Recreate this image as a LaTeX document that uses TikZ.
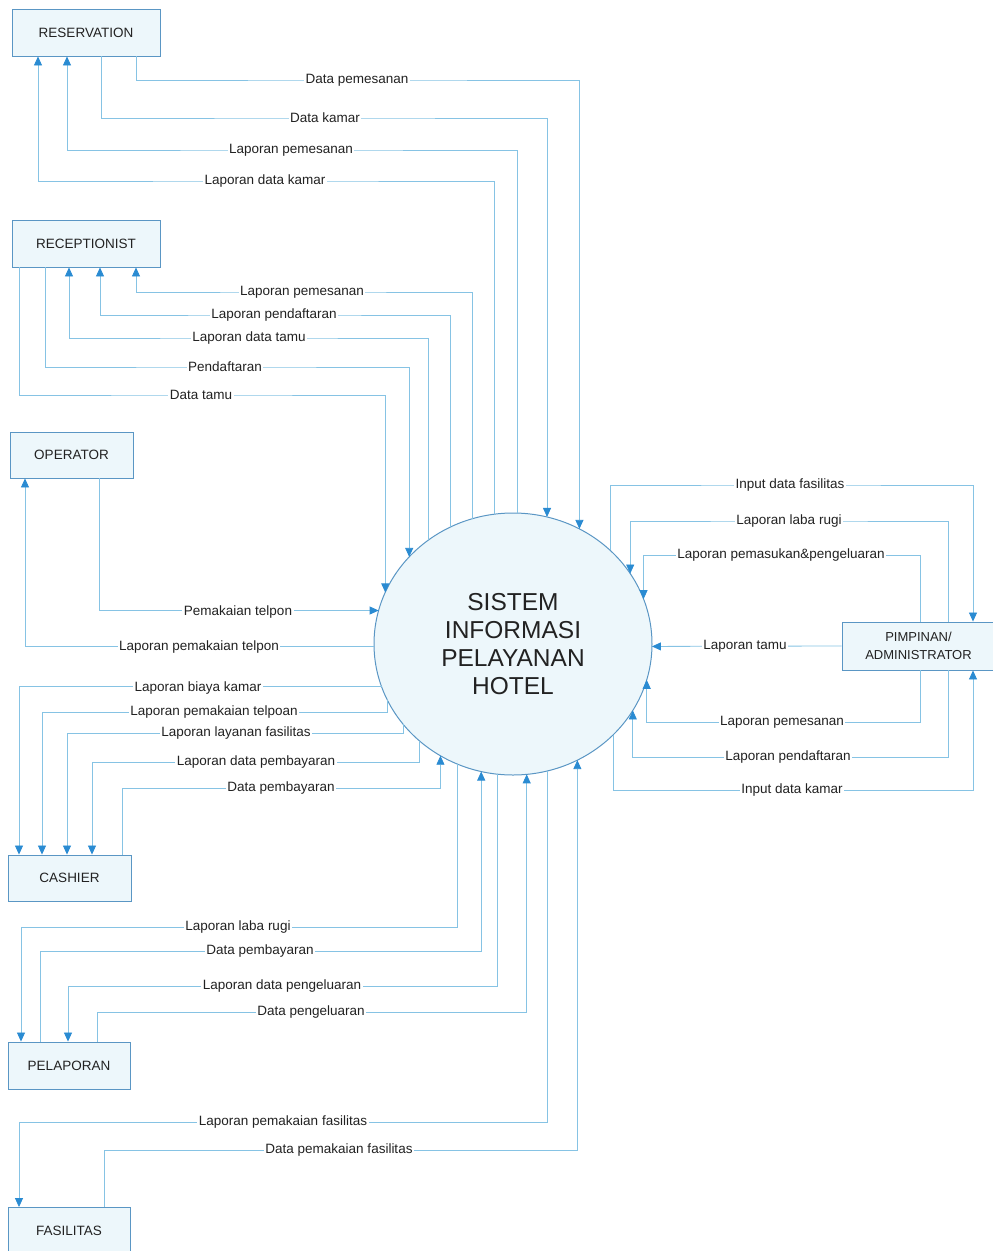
\documentclass[tikz,border=0pt]{standalone}
\usepackage{fontspec}
\setmainfont{Liberation Sans}
\usetikzlibrary{arrows.meta,shapes.geometric}
\definecolor{linec}{HTML}{86C3E4}
\definecolor{arrc}{HTML}{2A8BD2}
\definecolor{boxd}{HTML}{5A96C4}
\definecolor{boxf}{HTML}{EDF7FB}
\definecolor{txt}{HTML}{222222}
\tikzset{
  ent/.style={draw=boxd, fill=boxf, line width=0.9pt, minimum height=47pt, inner sep=0pt,
    font=\fontsize{13.5}{16}\selectfont, text=txt, align=center},
  flow/.style={draw=linec, line width=0.8pt},
  tip/.style={-{Triangle[length=9pt,width=8pt,color=arrc]}},
  lab/.style={fill=white, inner sep=1.5pt, font=\fontsize{13.5}{16}\selectfont, text=txt},
}
\begin{document}
\begin{tikzpicture}[x=1pt,y=-1pt]
\useasboundingbox (0,0) rectangle (993,1251);
% entities
\node[ent, minimum width=148pt] (res) at (86,32.5) {RESERVATION};
\node[ent, minimum width=148pt] (rec) at (86,243.5) {RECEPTIONIST};
\node[ent, minimum width=123pt, minimum height=46pt] (op) at (71.5,455) {OPERATOR};
\node[ent, minimum width=123pt, minimum height=46pt] (cash) at (69.5,878) {CASHIER};
\node[ent, minimum width=122pt] (pel) at (69,1065.5) {PELAPORAN};
\node[ent, minimum width=122pt] (fas) at (69,1231) {FASILITAS};
\node[ent, minimum width=153pt, minimum height=48pt, font=\fontsize{13}{18}\selectfont] (pim) at (918.5,646) {PIMPINAN/\\ADMINISTRATOR};
% process
\node[ellipse, draw=boxd, fill=boxf, line width=1pt, minimum width=278pt, minimum height=262pt,
  inner sep=0pt, outer sep=0pt, align=center, text=txt, font=\fontsize{24.5}{28}\selectfont]
  (sys) at (513,644) {SISTEM\\INFORMASI\\PELAYANAN\\HOTEL};
% label positions
\coordinate (a1) at (357,80);
\coordinate (a2) at (325,118);
\coordinate (a3) at (291,150);
\coordinate (a4) at (265,181);
\coordinate (b1) at (302,292);
\coordinate (b2) at (274,315);
\coordinate (b3) at (249,338);
\coordinate (b4) at (225,367);
\coordinate (b5) at (201,395);
\coordinate (c1) at (238,612);
\coordinate (c2) at (199,647);
\coordinate (d1) at (198,688);
\coordinate (d2) at (214,712);
\coordinate (d3) at (236,733);
\coordinate (d4) at (256,762);
\coordinate (d5) at (281,788);
\coordinate (e1) at (238,927);
\coordinate (e2) at (260,951);
\coordinate (e3) at (282,986);
\coordinate (e4) at (311,1012);
\coordinate (f1) at (283,1122);
\coordinate (f2) at (339,1150);
\coordinate (g1) at (790,485);
\coordinate (g2) at (789,521);
\coordinate (g3) at (781,555);
\coordinate (g4) at (745,646);
\coordinate (g5) at (782,722);
\coordinate (g6) at (788,757);
\coordinate (g7) at (792,790);
% reservation
\draw[flow,tip] (res.south -| 136,0) |- (a1) -| (sys.60.7);
\draw[flow,tip] (res.south -| 101,0) |- (a2) -| (sys.75.5);
\draw[flow,tip] (sys.88.25) |- (a3) -| (res.south -| 67,0);
\draw[flow,tip] (sys.98.3) |- (a4) -| (res.south -| 38,0);
% receptionist
\draw[flow,tip] (sys.108.6) |- (b1) -| (rec.south -| 136,0);
\draw[flow,tip] (sys.118.3) |- (b2) -| (rec.south -| 100,0);
\draw[flow,tip] (sys.129.4) |- (b3) -| (rec.south -| 69,0);
\draw[flow,tip] (rec.south -| 45,0) |- (b4) -| (sys.140.7);
\draw[flow,tip] (rec.south -| 19,0) |- (b5) -| (sys.158.3);
% operator
\draw[flow,tip] (op.south -| 99,0) |- (sys.166.6);
\draw[flow,tip] (sys.181.2) -| (op.south -| 25,0);
% cashier
\draw[flow,tip] (sys.198.6) -| (cash.north -| 19,0);
\draw[flow,tip] (sys.204.6) |- (d2) -| (cash.north -| 42,0);
\draw[flow,tip] (sys.216.1) |- (d3) -| (cash.north -| 67,0);
\draw[flow,tip] (sys.226.9) |- (d4) -| (cash.north -| 92,0);
\draw[flow,tip] (cash.north -| 122,0) |- (d5) -| (sys.237.3);
% pelaporan
\draw[flow,tip] (sys.245.4) |- (e1) -| (pel.north -| 21,0);
\draw[flow,tip] (pel.north -| 40,0) |- (e2) -| (sys.256.35);
\draw[flow,tip] (sys.263.4) |- (e3) -| (pel.north -| 68,0);
\draw[flow,tip] (pel.north -| 97,0) |- (e4) -| (sys.276.6);
% fasilitas
\draw[flow,tip] (sys.285.9) |- (f1) -| (fas.north -| 19,0);
\draw[flow,tip] (fas.north -| 104,0) |- (f2) -| (sys.299.3);
% pimpinan
\draw[flow,tip] (sys.44.6) |- (g1) -| (pim.north -| 973,0);
\draw[flow,tip] (pim.north -| 948,0) |- (g2) -| (sys.31.1);
\draw[flow,tip] (pim.north -| 920,0) |- (g3) -| (sys.19.6);
\draw[flow,tip] (pim.west) -- (sys.359.2);
\draw[flow,tip] (pim.south -| 920,0) |- (g5) -| (sys.345.44);
\draw[flow,tip] (pim.south -| 948,0) |- (g6) -| (sys.331.15);
\draw[flow,tip] (sys.318.9) |- (g7) -| (pim.south -| 973,0);
% labels
\node[lab] (la1) at (a1) {Data pemesanan};
\node[lab] (la2) at (a2) {Data kamar};
\node[lab] (la3) at (a3) {Laporan pemesanan};
\node[lab] (la4) at (a4) {Laporan data kamar};
\node[lab] (lb1) at (b1) {Laporan pemesanan};
\node[lab] (lb2) at (b2) {Laporan pendaftaran};
\node[lab] (lb3) at (b3) {Laporan data tamu};
\node[lab] (lb4) at (b4) {Pendaftaran};
\node[lab] (lb5) at (b5) {Data tamu};
\node[lab] (lc1) at (c1) {Pemakaian telpon};
\node[lab] (lc2) at (c2) {Laporan pemakaian telpon};
\node[lab] (ld1) at (d1) {Laporan biaya kamar};
\node[lab] (ld2) at (d2) {Laporan pemakaian telpoan};
\node[lab] (ld3) at (d3) {Laporan layanan fasilitas};
\node[lab] (ld4) at (d4) {Laporan data pembayaran};
\node[lab] (ld5) at (d5) {Data pembayaran};
\node[lab] (le1) at (e1) {Laporan laba rugi};
\node[lab] (le2) at (e2) {Data pembayaran};
\node[lab] (le3) at (e3) {Laporan data pengeluaran};
\node[lab] (le4) at (e4) {Data pengeluaran};
\node[lab] (lf1) at (f1) {Laporan pemakaian fasilitas};
\node[lab] (lf2) at (f2) {Data pemakaian fasilitas};
\node[lab] (lg1) at (g1) {Input data fasilitas};
\node[lab] (lg2) at (g2) {Laporan laba rugi};
\node[lab] (lg3) at (g3) {Laporan pemasukan\&pengeluaran};
\node[lab] (lg4) at (g4) {Laporan tamu};
\node[lab] (lg5) at (g5) {Laporan pemesanan};
\node[lab] (lg6) at (g6) {Laporan pendaftaran};
\node[lab] (lg7) at (g7) {Input data kamar};
\end{tikzpicture}
\end{document}
